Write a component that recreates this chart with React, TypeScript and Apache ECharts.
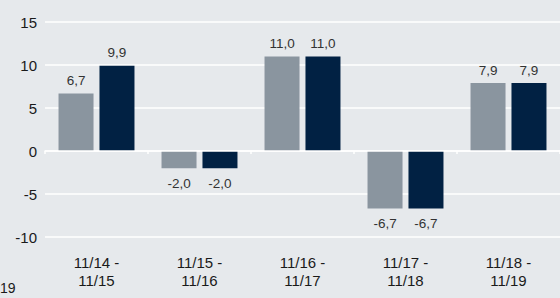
import React, { useEffect, useRef } from "react";
import * as echarts from "echarts";

const categories = ["11/14 -\n11/15", "11/15 -\n11/16", "11/16 -\n11/17", "11/17 -\n11/18", "11/18 -\n11/19"];
const seriesA = [6.7, -2.0, 11.0, -6.7, 7.9];
const seriesB = [9.9, -2.0, 11.0, -6.7, 7.9];
const yTicks = { min: -10, max: 15, interval: 5 };

const fmt = (v: number) => v.toFixed(1).replace(".", ",");

function toData(values: number[]) {
  return values.map((v) => ({
    value: v,
    label: { position: v >= 0 ? "top" : "bottom", distance: v >= 0 ? 6 : 8 },
  }));
}

export default function App() {
  const ref = useRef<HTMLDivElement>(null);
  useEffect(() => {
    const chart = echarts.init(ref.current!, null, { renderer: "svg" });
    const font = "'Liberation Sans', Arial, sans-serif";
    const labelStyle = {
      show: true,
      formatter: (p: any) => fmt(p.value),
      color: "#333",
      fontSize: 13.5,
      fontFamily: font,
    };
    chart.setOption({
      animation: false,
      backgroundColor: "#e6e9ec",
      textStyle: { fontFamily: font },
      grid: { left: 45, right: 0, top: 22, bottom: 61 },
      xAxis: [
        {
          type: "category",
          data: categories,
          axisLine: { onZero: true, lineStyle: { color: "#ffffff", width: 1.5 } },
          axisTick: { show: true, length: 3, lineStyle: { color: "#ffffff", width: 1.5 } },
          axisLabel: { show: false },
          z: 5,
        },
        {
          type: "category",
          data: categories,
          position: "bottom",
          axisLine: { show: false, onZero: false },
          axisTick: { show: false },
          axisLabel: {
            color: "#1a1a1a",
            fontSize: 15,
            lineHeight: 18,
            margin: 16,
            fontFamily: font,
          },
        },
      ],
      yAxis: {
        type: "value",
        min: yTicks.min,
        max: yTicks.max,
        interval: yTicks.interval,
        axisLine: { show: false },
        axisTick: { show: false },
        axisLabel: { color: "#1a1a1a", fontSize: 15, margin: 8, fontFamily: font },
        splitLine: { lineStyle: { color: "#ffffff", width: 1.5 } },
      },
      series: [
        {
          type: "bar",
          data: toData(seriesA),
          barWidth: 35,
          barGap: "17%",
          itemStyle: { color: "#8a959f" },
          label: labelStyle,
        },
        {
          type: "bar",
          data: toData(seriesB),
          barWidth: 35,
          barGap: "17%",
          itemStyle: { color: "#012143" },
          label: labelStyle,
        },
      ],
      graphic: [
        {
          type: "text",
          left: 0,
          top: 281,
          style: { text: "19", fill: "#1a1a1a", fontSize: 14, fontFamily: font },
        },
      ],
    });
    return () => chart.dispose();
  }, []);
  return (
    <div
      ref={ref}
      style={{ position: "fixed", left: 0, top: 0, width: 560, height: 298 }}
    />
  );
}
